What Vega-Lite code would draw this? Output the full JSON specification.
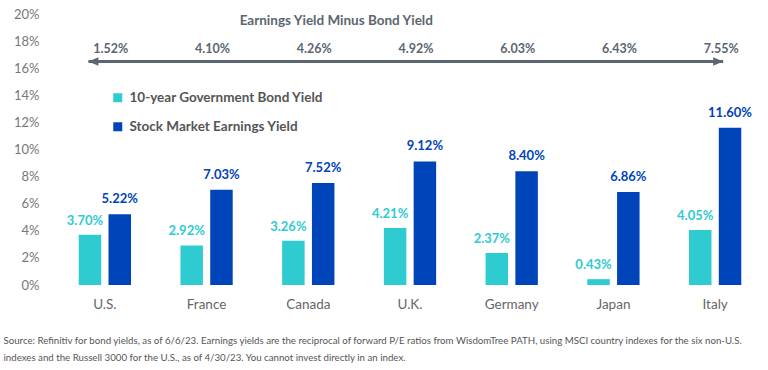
{
  "$schema": "https://vega.github.io/schema/vega-lite/v6.json",
  "width": 712,
  "height": 271,
  "autosize": {"type": "none"},
  "padding": {"left": 54, "top": 14, "right": 2, "bottom": 85},
  "background": "white",
  "config": {
    "font": "Lato",
    "view": {"stroke": null},
    "axis": {"grid": false, "domain": false, "ticks": false, "title": null},
    "axisY": {"labelFontSize": 13, "labelColor": "#777777", "labelPadding": 15, "values": [0, 0.02, 0.04, 0.06, 0.08, 0.1, 0.12, 0.14, 0.16, 0.18, 0.2], "format": ".0%"},
    "axisX": {"labelFontSize": 13.5, "labelColor": "#666666", "labelPadding": 12, "labelAngle": 0}
  },
  "title": {
    "text": [
      "Source: Refinitiv for bond yields, as of 6/6/23. Earnings yields are the reciprocal of forward P/E ratios from WisdomTree PATH, using MSCI country indexes for the six non-U.S.",
      "indexes and the Russell 3000 for the U.S., as of 4/30/23. You cannot invest directly in an index."
    ],
    "orient": "bottom",
    "anchor": "start",
    "frame": "bounds",
    "font": "Lato",
    "fontSize": 9.7,
    "fontWeight": "normal",
    "color": "#555555",
    "lineHeight": 17,
    "offset": 25,
    "dx": -10
  },
  "datasets": {
    "yields": [
      {"country": "U.S.", "series": "10-year Government Bond Yield", "value": 0.0370},
      {"country": "U.S.", "series": "Stock Market Earnings Yield", "value": 0.0522},
      {"country": "France", "series": "10-year Government Bond Yield", "value": 0.0292},
      {"country": "France", "series": "Stock Market Earnings Yield", "value": 0.0703},
      {"country": "Canada", "series": "10-year Government Bond Yield", "value": 0.0326},
      {"country": "Canada", "series": "Stock Market Earnings Yield", "value": 0.0752},
      {"country": "U.K.", "series": "10-year Government Bond Yield", "value": 0.0421},
      {"country": "U.K.", "series": "Stock Market Earnings Yield", "value": 0.0912},
      {"country": "Germany", "series": "10-year Government Bond Yield", "value": 0.0237},
      {"country": "Germany", "series": "Stock Market Earnings Yield", "value": 0.0840},
      {"country": "Japan", "series": "10-year Government Bond Yield", "value": 0.0043},
      {"country": "Japan", "series": "Stock Market Earnings Yield", "value": 0.0686},
      {"country": "Italy", "series": "10-year Government Bond Yield", "value": 0.0405},
      {"country": "Italy", "series": "Stock Market Earnings Yield", "value": 0.1160}
    ],
    "spreads": [
      {"country": "U.S.", "spread": 0.0152},
      {"country": "France", "spread": 0.0410},
      {"country": "Canada", "spread": 0.0426},
      {"country": "U.K.", "spread": 0.0492},
      {"country": "Germany", "spread": 0.0603},
      {"country": "Japan", "spread": 0.0643},
      {"country": "Italy", "spread": 0.0755}
    ],
    "arrow": [
      {"start": 0.338, "end": 6.579, "level": 0.165}
    ],
    "heading": [
      {"pos": 2.775, "level": 0.1945, "text": "Earnings Yield Minus Bond Yield"}
    ]
  },
  "layer": [
    {
      "layer": [
        {
          "data": {"name": "yields"},
          "mark": {"type": "bar"},
          "encoding": {
            "x": {"field": "country", "type": "nominal", "sort": ["U.S.", "France", "Canada", "U.K.", "Germany", "Japan", "Italy"], "scale": {"paddingInner": 0.486, "paddingOuter": 0.243}},
            "xOffset": {"field": "series", "type": "nominal", "scale": {"paddingInner": 0.245, "paddingOuter": 0}},
            "y": {"field": "value", "type": "quantitative", "scale": {"domain": [0, 0.2], "nice": false}},
            "color": {
              "field": "series", "type": "nominal",
              "scale": {"domain": ["10-year Government Bond Yield", "Stock Market Earnings Yield"], "range": ["#2ecbd1", "#0044b9"]},
              "legend": {"orient": "none", "legendX": 57, "legendY": 77, "title": null, "symbolType": "square", "symbolSize": 81, "labelFontSize": 13.5, "labelFontWeight": "bold", "labelColor": "#555555", "labelLimit": 0, "rowPadding": 14, "labelOffset": 5, "symbolStrokeWidth": 0}
            }
          }
        },
        {
          "data": {"name": "yields"},
          "transform": [{"filter": "datum.series === '10-year Government Bond Yield'"}],
          "mark": {"type": "text", "baseline": "bottom", "dy": -7, "dx": -5, "fontWeight": "bold", "fontSize": 13, "color": "#2ecbd1"},
          "encoding": {
            "x": {"field": "country", "type": "nominal", "sort": ["U.S.", "France", "Canada", "U.K.", "Germany", "Japan", "Italy"]},
            "xOffset": {"field": "series", "type": "nominal"},
            "y": {"field": "value", "type": "quantitative"},
            "text": {"field": "value", "type": "quantitative", "format": ".2%"}
          }
        },
        {
          "data": {"name": "yields"},
          "transform": [{"filter": "datum.series === 'Stock Market Earnings Yield'"}],
          "mark": {"type": "text", "baseline": "bottom", "dy": -8, "dx": 0, "fontWeight": "bold", "fontSize": 13, "color": "#0044b9"},
          "encoding": {
            "x": {"field": "country", "type": "nominal", "sort": ["U.S.", "France", "Canada", "U.K.", "Germany", "Japan", "Italy"]},
            "xOffset": {"field": "series", "type": "nominal"},
            "y": {"field": "value", "type": "quantitative"},
            "text": {"field": "value", "type": "quantitative", "format": ".2%"}
          }
        },
        {
          "data": {"name": "spreads"},
          "mark": {"type": "text", "baseline": "middle", "dy": -12, "dx": 6, "fontWeight": "bold", "fontSize": 12.5, "color": "#5b6670"},
          "encoding": {
            "x": {"field": "country", "type": "nominal", "sort": ["U.S.", "France", "Canada", "U.K.", "Germany", "Japan", "Italy"]},
            "y": {"datum": 0.165, "type": "quantitative"},
            "text": {"field": "spread", "type": "quantitative", "format": ".2%"}
          }
        }
      ]
    },
    {
      "layer": [
        {
          "data": {"name": "arrow"},
          "mark": {"type": "rule", "strokeWidth": 3, "color": "#5b6670"},
          "encoding": {
            "x": {"field": "start", "type": "quantitative", "scale": {"domain": [0, 7], "nice": false, "zero": false}, "axis": null},
            "x2": {"field": "end"},
            "y": {"field": "level", "type": "quantitative"}
          }
        },
        {
          "data": {"name": "arrow"},
          "mark": {"type": "point", "shape": "M0,0L1,-0.42L1,0.42Z", "filled": true, "opacity": 1, "size": 400, "color": "#5b6670"},
          "encoding": {
            "x": {"field": "start", "type": "quantitative"},
            "y": {"field": "level", "type": "quantitative"}
          }
        },
        {
          "data": {"name": "arrow"},
          "mark": {"type": "point", "shape": "M0,0L-1,-0.42L-1,0.42Z", "filled": true, "opacity": 1, "size": 400, "color": "#5b6670"},
          "encoding": {
            "x": {"field": "end", "type": "quantitative"},
            "y": {"field": "level", "type": "quantitative"}
          }
        },
        {
          "data": {"name": "heading"},
          "mark": {"type": "text", "baseline": "middle", "fontWeight": "bold", "fontSize": 13.5, "color": "#5b6670"},
          "encoding": {
            "x": {"field": "pos", "type": "quantitative"},
            "y": {"field": "level", "type": "quantitative"},
            "text": {"field": "text"}
          }
        }
      ]
    }
  ],
  "resolve": {"scale": {"x": "independent"}, "axis": {"x": "independent"}}
}
